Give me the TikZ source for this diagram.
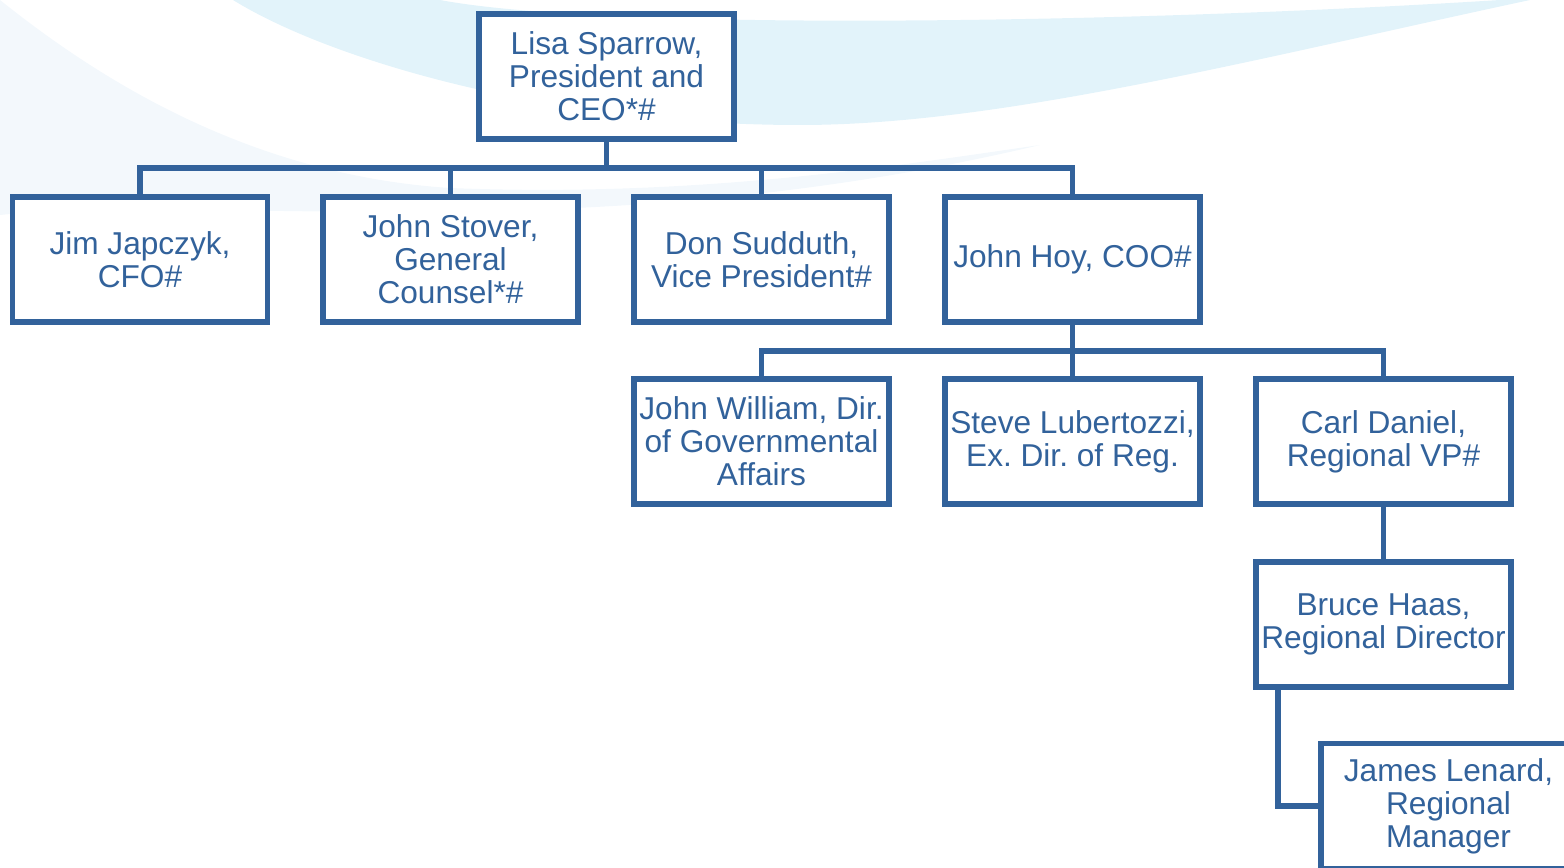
\documentclass[tikz,border=0pt]{standalone}
\usepackage{fontspec}
\setmainfont{Liberation Sans}
\frenchspacing
\definecolor{orgblue}{RGB}{50,98,155}
\definecolor{swoosh}{RGB}{226,243,250}
\definecolor{haze}{RGB}{243,248,252}

\begin{document}
\begin{tikzpicture}[x=0.02cm,y=-0.02cm,
    person/.style={draw=orgblue,line width=0.105cm,fill=white,text=orgblue,
      minimum width=5.1cm,minimum height=2.5cm,inner sep=1pt,align=center,
      font=\fontsize{18}{18.7}\selectfont},
    link/.style={draw=orgblue,line width=0.105cm}]
  \useasboundingbox (0,0) rectangle (1564,868);
  % background swooshes
  \fill[haze] (0,0) .. controls (100,80) and (250,175) .. (450,188)
    .. controls (700,198) and (900,165) .. (1040,145)
    .. controls (850,190) and (650,212) .. (400,212)
    .. controls (250,212) and (100,205) .. (0,215) -- cycle;
  \fill[swoosh] (233,0) .. controls (330,60) and (550,125) .. (800,125)
    .. controls (1000,125) and (1250,60) .. (1530,0)
    -- (1500,0) .. controls (1100,25) and (600,30) .. (440,0) -- cycle;

  \node[person] (ceo) at (606.5,76.5) {Lisa Sparrow,\\President and\\CEO*\#};
  \node[person] (jim) at (140,259.5) {Jim Japczyk,\\CFO\#};
  \node[person] (stover) at (450.5,259.5) {John Stover,\\General\\Counsel*\#};
  \node[person] (don) at (761.5,259.5) {Don Sudduth,\\Vice President\#};
  \node[person] (hoy) at (1072.5,259.5) {John Hoy, COO\#};
  \node[person] (william) at (761.5,441.5) {John William, Dir.\\of Governmental\\Affairs};
  \node[person] (steve) at (1072.5,441.5) {Steve Lubertozzi,\\Ex. Dir. of Reg.};
  \node[person] (carl) at (1383.5,441.5) {Carl Daniel,\\Regional VP\#};
  \node[person] (bruce) at (1383.5,624.5) {Bruce Haas,\\Regional Director};
  \node[person] (james) at (1448.5,806) {James Lenard,\\Regional\\Manager};

  \coordinate (bus1) at (606.5,168);
  \coordinate (bus2) at (1072.5,351);
  \draw[link] (ceo) -- (bus1);
  \draw[link] (jim.north) |- (bus1);
  \draw[link] (stover.north) |- (bus1);
  \draw[link] (don.north) |- (bus1);
  \draw[link] (hoy.north) |- (bus1);
  \draw[link] (hoy) -- (bus2);
  \draw[link] (william.north) |- (bus2);
  \draw[link] (steve) -- (bus2);
  \draw[link] (carl.north) |- (bus2);
  \draw[link] (carl) -- (bruce);
  \draw[link] ([xshift=0.49cm]bruce.south west) |- (james.west);
\end{tikzpicture}
\end{document}
